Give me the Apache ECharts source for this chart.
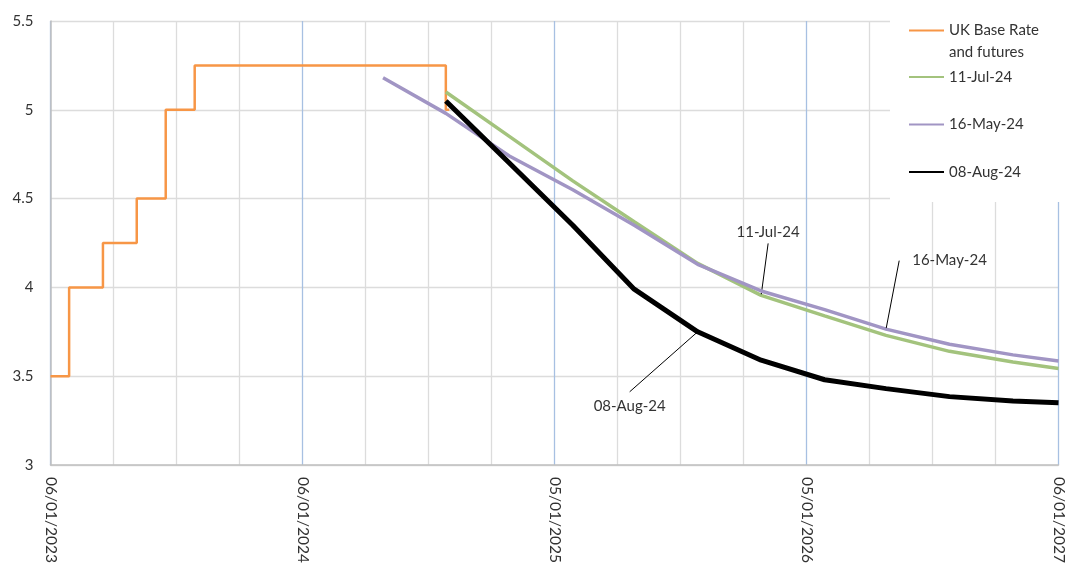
<!DOCTYPE html>
<html>
<head>
<meta charset="utf-8">
<script src="https://cdn.jsdelivr.net/npm/echarts@6/dist/echarts.min.js"></script>
<style>
  html, body { margin: 0; padding: 0; background: #fff; }
  #chart { width: 1066px; height: 563px; }
</style>
</head>
<body>
<div id="chart"></div>
<script>
// Series names (legend order)
const seriesNames = ['UK Base Rate\nand futures', '11-Jul-24', '16-May-24', '08-Aug-24'];

// Bank Rate history (step changes)
const baseRateDates  = ['2023-01-06', '2023-02-02', '2023-03-23', '2023-05-11', '2023-06-22', '2023-08-03', '2024-08-01', '2024-08-06'];
const baseRateValues = [3.5, 4.0, 4.25, 4.5, 5.0, 5.25, 5.0, 5.0];

// Market-implied curves, quarterly points
const curveDates   = ['2024-05-02', '2024-08-01', '2024-11-01', '2025-02-01', '2025-05-01', '2025-08-01', '2025-11-01', '2026-02-01', '2026-05-01', '2026-08-01', '2026-11-01', '2027-01-06'];
const jul11Values  = [null, 5.10, 4.85, 4.60, 4.37, 4.135, 3.955, 3.84, 3.73, 3.64, 3.58, 3.543];
const may16Values  = [5.18, 4.98, 4.74, 4.55, 4.35, 4.13, 3.98, 3.875, 3.765, 3.68, 3.62, 3.585];
const aug08Values  = [null, 5.05, 4.70, 4.35, 3.99, 3.75, 3.59, 3.48, 3.43, 3.385, 3.36, 3.35];

// Where each curve carries its name tag
const tagDates = { '11-Jul-24': '2025-11-01', '16-May-24': '2026-05-01', '08-Aug-24': '2025-08-01' };

// Axis ranges and tick labels
const xStart = '2023-01-06';
const xEnd   = '2027-01-06';
const xTickLabels = ['06/01/2023', '06/01/2024', '05/01/2025', '05/01/2026', '06/01/2027'];
const yMin = 3, yMax = 5.5, yStep = 0.5;

const DAY_MS = 86400000;
const toDay = d => (Date.parse(d) - Date.parse(xStart)) / DAY_MS;
const xMax = toDay(xEnd);
const xMinorStep = xMax / 16;

const FONT = 'Lato, "Open Sans", sans-serif';
const TEXT = '#333333';

function curveData(values, name) {
  return curveDates.map((d, i) => {
    const item = { value: [toDay(d), values[i]] };
    if (tagDates[name] === d) {
      // tiny anchor symbol so the tag and its leader line attach to this point
      item.symbol = 'circle';
      item.symbolSize = 2;
      item.label = { show: true, formatter: name };
    }
    return item;
  });
}

// transparent box so the padding counts toward the leader-line anchor
const tagLabel = { fontFamily: FONT, fontSize: 15, color: TEXT, backgroundColor: 'rgba(255,255,255,0)' };
const tagLine = { show: true, lineStyle: { color: '#000', width: 1 } };

const chart = echarts.init(document.getElementById('chart'), null, { renderer: 'canvas' });

chart.setOption({
  animation: false,
  backgroundColor: '#fff',
  grid: { left: 50.5, right: 7.5, top: 21, bottom: 98, containLabel: false, outerBoundsMode: 'none' },
  graphic: [{
    type: 'rect', left: 890, top: 0, z: 1, silent: true,
    shape: { width: 176, height: 202 },
    style: { fill: '#fff' }
  }],
  legend: [{
    orient: 'vertical', left: 908, top: 23, padding: 0,
    itemWidth: 35, itemHeight: 14,
    data: [seriesNames[0]],
    itemStyle: { opacity: 0 },
    formatter: name => name.split('\n').map(s => '{t|' + s + '}').join('\n'),
    textStyle: {
      fontFamily: FONT, fontSize: 15, color: TEXT, padding: [22, 0, 0, 0],
      rich: { t: { fontFamily: FONT, fontSize: 15, color: TEXT, lineHeight: 22 } }
    }
  }, {
    orient: 'vertical', left: 908, top: 67, padding: 0,
    itemWidth: 35, itemHeight: 14, itemGap: 27.5,
    data: seriesNames.slice(1),
    itemStyle: { opacity: 0 },
    textStyle: { fontFamily: FONT, fontSize: 15, color: TEXT, lineHeight: 20 }
  }],
  xAxis: {
    type: 'value', min: 0, max: xMax, interval: xMinorStep,
    axisLine: { show: true, lineStyle: { color: '#c0c0c0', width: 1.5 } },
    axisTick: { show: false },
    axisLabel: {
      rotate: -90, margin: 12, fontFamily: FONT, fontSize: 15.5, color: TEXT,
      showMinLabel: true, showMaxLabel: true,
      formatter: (v, i) => (i % 4 === 0 ? xTickLabels[i / 4] : '')
    },
    splitLine: {
      show: true,
      lineStyle: { color: ['#a7c0e2', '#dcdcdc', '#dcdcdc', '#dcdcdc'], width: 1.3 }
    }
  },
  yAxis: {
    type: 'value', min: yMin, max: yMax, interval: yStep,
    axisLine: { show: true, lineStyle: { color: '#c0c0c0', width: 1.5 } },
    axisTick: { show: false },
    axisLabel: { margin: 17, fontFamily: FONT, fontSize: 15, color: TEXT },
    splitLine: { show: true, lineStyle: { color: '#dcdcdc', width: 1.3 } }
  },
  series: [{
    name: seriesNames[0], type: 'line', step: 'end', symbol: 'none',
    data: baseRateDates.map((d, i) => [toDay(d), baseRateValues[i]]),
    lineStyle: { color: '#F79646', width: 2.5 }, itemStyle: { color: '#F79646' }
  }, {
    name: seriesNames[1], type: 'line', symbol: 'none', showSymbol: true, z: 3,
    data: curveData(jul11Values, seriesNames[1]),
    lineStyle: { color: '#A3C37D', width: 3.5 }, itemStyle: { color: '#A3C37D' },
    label: Object.assign({ padding: [0, 0, 4, 0] }, tagLabel), labelLine: tagLine,
    labelLayout: { dx: 7, dy: -46 }
  }, {
    name: seriesNames[2], type: 'line', symbol: 'none', showSymbol: true, z: 4,
    data: curveData(may16Values, seriesNames[2]),
    lineStyle: { color: '#A195C4', width: 3.5 }, itemStyle: { color: '#A195C4' },
    label: Object.assign({ padding: [0, 0, 0, 13] }, tagLabel), labelLine: tagLine,
    labelLayout: { dx: 57, dy: -55 }
  }, {
    name: seriesNames[3], type: 'line', symbol: 'none', showSymbol: true, z: 5,
    data: curveData(aug08Values, seriesNames[3]),
    lineStyle: { color: '#000000', width: 5 }, itemStyle: { color: '#000000' },
    label: Object.assign({ position: 'bottom', padding: [7, 0, 40, 0] }, tagLabel), labelLine: tagLine,
    labelLayout: { dx: -68, dy: 54 }
  }]
});
</script>
</body>
</html>
